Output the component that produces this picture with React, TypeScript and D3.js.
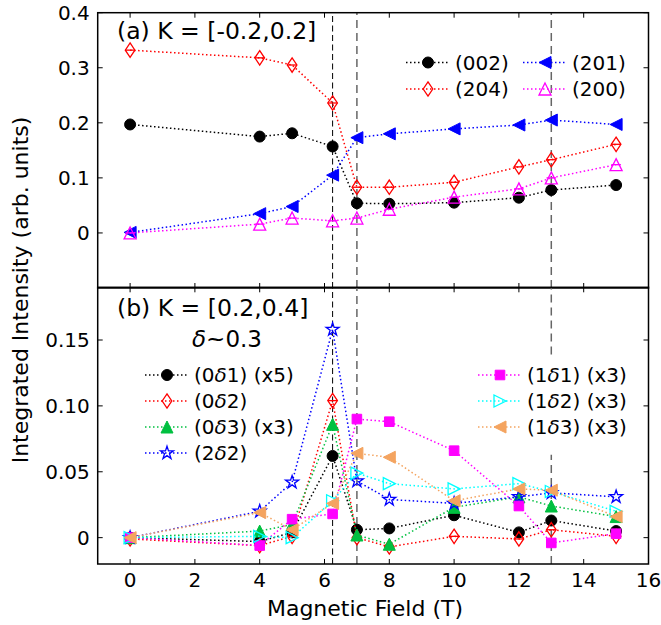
import React from "react";
import { scaleLinear, line, symbol, symbolStar } from "d3";

// magnetic field values (T), shared by every series
const fields = [0, 4, 5, 6.25, 7, 8, 10, 12, 13, 15];

// panel (a) K = [-0.2,0.2]
const a002 = [0.197, 0.175, 0.181, 0.157, 0.054, 0.053, 0.055, 0.064, 0.078, 0.087];
const a204 = [0.332, 0.318, 0.305, 0.236, 0.083, 0.083, 0.092, 0.12, 0.133, 0.161];
const a201 = [0.001, 0.035, 0.048, 0.105, 0.173, 0.18, 0.189, 0.196, 0.205, 0.197];
const a200 = [0.0, 0.016, 0.027, 0.022, 0.027, 0.043, 0.065, 0.08, 0.1, 0.124];

// panel (b) K = [0.2,0.4]
const b0d1 = [0.0, -0.003, 0.004, 0.062, 0.006, 0.007, 0.017, 0.004, 0.013, 0.005];
const b0d2 = [-0.001, -0.006, 0.001, 0.104, 0.0, -0.007, 0.001, -0.001, 0.006, 0.001];
const b0d3 = [0.0, 0.005, 0.01, 0.086, 0.002, -0.005, 0.023, 0.031, 0.024, 0.016];
const b2d2 = [0.0, 0.02, 0.042, 0.158, 0.043, 0.029, 0.026, 0.031, 0.034, 0.031];
const b1d1 = [0.0, -0.006, 0.014, 0.018, 0.09, 0.088, 0.066, 0.024, -0.004, 0.003];
const b1d2 = [0.0, 0.001, 0.0, 0.028, 0.049, 0.041, 0.037, 0.041, 0.035, 0.02];
const b1d3 = [0.0, 0.019, 0.006, 0.026, 0.064, 0.061, 0.028, 0.037, 0.036, 0.016];

const xTicks = [0, 2, 4, 6, 8, 10, 12, 14, 16];
const yTicksA = [0, 0.1, 0.2, 0.3, 0.4];
const yTicksB = [0, 0.05, 0.1, 0.15];

// dashed guide lines, [field, y ranges in (a), y ranges in (b)]
const guideFields = [6.25, 7, 13];
const guideSpansA = [[[-0.1, 0.4]], [[-0.1, 0.4]], [[-0.1, 0.4]]];
const guideSpansB = [[[-0.02, 0.19]], [[-0.02, 0.19]], [[-0.02, 0.063], [0.139, 0.19]]];

const FONT = "DejaVu Sans, Bitstream Vera Sans, sans-serif";

const x = scaleLinear().domain([-1, 16]).range([97.7, 648.5]);
const yA = scaleLinear().domain([-0.1, 0.4]).range([288, 12.7]);
const yB = scaleLinear().domain([-0.02, 0.19]).range([564, 287.3]);

const seriesA = [
  { label: "(002)", values: a002, color: "#000000", marker: "circle", filled: true, lx: 428, ly: 62.5 },
  { label: "(204)", values: a204, color: "#ff0000", marker: "diamond", filled: false, cap: true, lx: 428, ly: 89 },
  { label: "(201)", values: a201, color: "#0000ff", marker: "left", filled: true, lx: 545, ly: 62.5 },
  { label: "(200)", values: a200, color: "#ff00ff", marker: "up", filled: false, cap: true, lx: 545, ly: 89 },
];

const seriesB = [
  { label: "(0δ1) (x5)", values: b0d1, color: "#000000", marker: "circle", filled: true, lx: 167, ly: 375 },
  { label: "(0δ2)", values: b0d2, color: "#ff0000", marker: "diamond", filled: false, cap: true, lx: 167, ly: 401 },
  { label: "(0δ3) (x3)", values: b0d3, color: "#00c040", marker: "up", filled: true, lx: 167, ly: 427 },
  { label: "(2δ2)", values: b2d2, color: "#0000ff", marker: "star", filled: false, lx: 167, ly: 453 },
  { label: "(1δ1) (x3)", values: b1d1, color: "#ff00ff", marker: "square", filled: true, lx: 500, ly: 375 },
  { label: "(1δ2) (x3)", values: b1d2, color: "#00ffff", marker: "right", filled: false, lx: 500, ly: 401 },
  { label: "(1δ3) (x3)", values: b1d3, color: "#f4a460", marker: "left", filled: true, lx: 500, ly: 427 },
];

const starPath = symbol().type(symbolStar).size(52)();

function markerPath(kind: string) {
  const h = 6;
  switch (kind) {
    case "circle":
      return `M${-5.5},0A5.5,5.5 0 1,0 5.5,0A5.5,5.5 0 1,0 -5.5,0Z`;
    case "diamond":
      return `M0,-7.2L4.8,0L0,7.2L-4.8,0Z`;
    case "up":
      return `M0,${-h}L${h},${h}L${-h},${h}Z`;
    case "left":
      return `M${-h},0L${h},${-h}L${h},${h}Z`;
    case "right":
      return `M${h},0L${-h},${-h}L${-h},${h}Z`;
    case "square":
      return `M-4.8,-4.8H4.8V4.8H-4.8Z`;
    default:
      return starPath;
  }
}

const Marker = ({ s, cx, cy, cap }: any) => (
  <g transform={`translate(${cx},${cy})`}>
    <path
      d={markerPath(s.marker)}
      fill={s.filled ? s.color : "none"}
      stroke={s.color}
      strokeWidth={s.filled ? 1 : 1.3}
    />
    {cap && <line x1={-4.8} x2={4.8} y1={0} y2={0} stroke={s.color} strokeWidth={1.3} />}
  </g>
);

// text with an italic delta
const DeltaText = ({ text, ...rest }: any) => {
  const parts = text.split("δ");
  return (
    <text {...rest}>
      {parts.map((p: string, i: number) => (
        <React.Fragment key={i}>
          {i > 0 && <tspan fontStyle="italic">δ</tspan>}
          <tspan>{p}</tspan>
        </React.Fragment>
      ))}
    </text>
  );
};

const Panel = ({ y, series, yTicks, fmt, spans, title, legendFont }: any) => {
  const [y0, y1] = y.range();
  const path = line<number>()
    .x((_, i) => x(fields[i]))
    .y((d) => y(d));
  const left = x.range()[0];
  const right = x.range()[1];
  return (
    <g>
      {guideFields.map((f, i) =>
        spans[i].map((sp: number[], j: number) => (
          <line
            key={`${i}-${j}`}
            x1={x(f)}
            x2={x(f)}
            y1={y(sp[0])}
            y2={y(sp[1])}
            stroke={i === 0 ? "#000" : "#666"}
            strokeWidth={i === 0 ? 1 : 1.5}
            strokeDasharray={i === 0 ? "6 3.5" : "8 5"}
          />
        ))
      )}
      {series.map((s: any) => (
        <g key={s.label}>
          <path d={path(s.values) || ""} fill="none" stroke={s.color} strokeWidth={1.5} strokeDasharray="1.5 2.5" />
          {s.values.map((v: number, i: number) => (
            <Marker key={i} s={s} cx={x(fields[i])} cy={y(v)} cap={s.cap} />
          ))}
        </g>
      ))}
      {/* legend */}
      {series.map((s: any) => (
        <g key={"lg" + s.label}>
          <line x1={s.lx - 22} x2={s.lx + 20} y1={s.ly} y2={s.ly} stroke={s.color} strokeWidth={1.5} strokeDasharray="1.5 2.5" />
          <Marker s={s} cx={s.lx} cy={s.ly} />
          <DeltaText
            text={s.label}
            x={s.lx + 27}
            y={s.ly}
            dominantBaseline="central"
            fontSize={legendFont}
            fontFamily={FONT}
          />
        </g>
      ))}
      {title}
      {/* ticks */}
      {xTicks.map((t) => (
        <g key={"xt" + t}>
          <line x1={x(t)} x2={x(t)} y1={y0} y2={y0 - 5} stroke="#000" strokeWidth={1} />
          <line x1={x(t)} x2={x(t)} y1={y1} y2={y1 + 5} stroke="#000" strokeWidth={1} />
        </g>
      ))}
      {yTicks.map((t: number) => (
        <g key={"yt" + t}>
          <line x1={left} x2={left + 5} y1={y(t)} y2={y(t)} stroke="#000" strokeWidth={1} />
          <line x1={right} x2={right - 5} y1={y(t)} y2={y(t)} stroke="#000" strokeWidth={1} />
          <text x={left - 8} y={y(t)} textAnchor="end" dominantBaseline="central" fontSize={20} fontFamily={FONT}>
            {fmt(t)}
          </text>
        </g>
      ))}
      <rect x={left} y={y1} width={right - left} height={y0 - y1} fill="none" stroke="#000" strokeWidth={1.5} />
    </g>
  );
};

export default function App() {
  return (
    <svg
      width={661}
      height={625}
      style={{ position: "absolute", left: 0, top: 0, background: "#fff" }}
    >
      <Panel
        y={yA}
        series={seriesA}
        yTicks={yTicksA}
        fmt={(t: number) => (t === 0 ? "0" : t.toFixed(1))}
        spans={guideSpansA}
        legendFont={20}
        title={
          <text x={117} y={31} dominantBaseline="central" fontSize={23.5} fontFamily={FONT}>
            (a) K = [-0.2,0.2]
          </text>
        }
      />
      <Panel
        y={yB}
        series={seriesB}
        yTicks={yTicksB}
        fmt={(t: number) => (t === 0 ? "0" : t.toFixed(2))}
        spans={guideSpansB}
        legendFont={20}
        title={
          <g>
            <text x={117} y={308} dominantBaseline="central" fontSize={23.5} fontFamily={FONT}>
              (b) K = [0.2,0.4]
            </text>
            <DeltaText text="δ~0.3" x={227} y={339} textAnchor="middle" dominantBaseline="central" fontSize={23} fontFamily={FONT} />
          </g>
        }
      />
      {xTicks.map((t) => (
        <text key={t} x={x(t)} y={580} textAnchor="middle" dominantBaseline="central" fontSize={20} fontFamily={FONT}>
          {t}
        </text>
      ))}
      <text x={365} y={608} textAnchor="middle" dominantBaseline="central" fontSize={22} fontFamily={FONT}>
        Magnetic Field (T)
      </text>
      <text
        transform="translate(20,290) rotate(-90)"
        textAnchor="middle"
        dominantBaseline="central"
        fontSize={22}
        fontFamily={FONT}
      >
        Integrated Intensity (arb. units)
      </text>
    </svg>
  );
}
